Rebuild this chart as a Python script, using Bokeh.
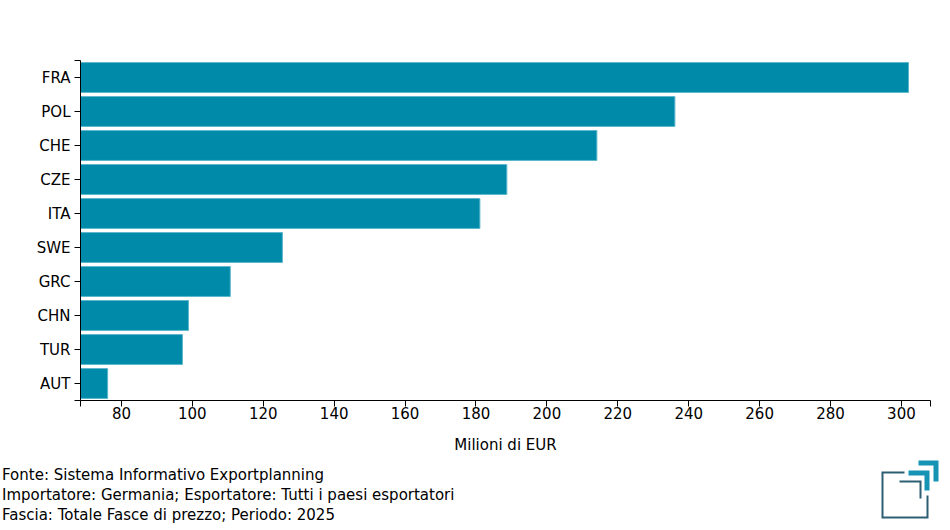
from bokeh.plotting import figure
from bokeh.models import (Range1d, FixedTicker, CustomJSTickFormatter, LinearAxis,
                          ColumnDataSource)
from bokeh.core.properties import value
from bokeh.embed import file_html
from bokeh.resources import INLINE

# ---- data ----
countries = ["FRA", "POL", "CHE", "CZE", "ITA", "SWE", "GRC", "CHN", "TUR", "AUT"]
values = [302.0, 236.1, 214.1, 188.7, 181.1, 125.4, 110.7, 98.9, 97.2, 76.1]
x_ticks = [80, 100, 120, 140, 160, 180, 200, 220, 240, 260, 280, 300]
x_min, x_max = 68.45, 308.2
x_label = "Milioni di EUR"
footer_lines = [
    "Fonte: Sistema Informativo Exportplanning",
    "Importatore: Germania; Esportatore: Tutti i paesi esportatori",
    "Fascia: Totale Fasce di prezzo; Periodo: 2025",
]

FONT = "DejaVu Sans"
BAR = "#008aaa"
BAR_EDGE = "#5db7cc"
DARK = "#2e5e73"
TEAL = "#1794b3"

# page layout (pixels): plot area 80..930 x 60..400 inside a 950x528 canvas
W, H = 950, 528
LEFT, RIGHT, TOP, BOTTOM = 80, 930, 60, 400

n = len(countries)
positions = [i + 0.5 for i in range(n)]
src = ColumnDataSource(dict(country=countries, value=values, y=positions))

px_x = (RIGHT - LEFT) / (x_max - x_min)
px_y = (BOTTOM - TOP) / n
def to_x(xp):
    return x_min + (xp - LEFT) / px_x
def to_y(yp):
    return (yp - TOP) / px_y

p = figure(width=W, height=H, output_backend="svg", toolbar_location=None,
           x_range=Range1d(to_x(0), to_x(W)), y_range=Range1d(to_y(H), to_y(0)),
           x_axis_location=None, y_axis_location=None, min_border=0)
p.outline_line_color = None
p.grid.visible = False

p.hbar(y="y", right="value", left=x_min, height=0.88, source=src,
       fill_color=BAR, line_color=BAR_EDGE, line_width=1)

# x axis (value axis) fixed at the bottom of the bars area
xa = LinearAxis(fixed_location=n, bounds=(x_min, x_max))
xa.ticker = FixedTicker(ticks=[x_min] + x_ticks + [x_max])
xa.formatter = CustomJSTickFormatter(args=dict(tv=x_ticks),
                                     code="return tv.includes(tick) ? tick.toFixed(0) : '';")
xa.axis_label = x_label
xa.axis_label_text_font = FONT
xa.axis_label_text_font_size = "15px"
xa.axis_label_text_font_style = "normal"
xa.axis_label_text_color = "#000000"
xa.axis_label_standoff = 14
xa.major_label_standoff = 0

# y axis (categories) fixed at the left of the bars area
ya = LinearAxis(fixed_location=x_min, bounds=(0, n))
ya.ticker = FixedTicker(ticks=[0] + positions + [n])
ya.formatter = CustomJSTickFormatter(args=dict(names=countries),
    code="const i = Math.floor(tick); return (Math.abs(tick - i - 0.5) < 1e-6 && i < names.length) ? names[i] : '';")
ya.major_label_standoff = 4

for ax in (xa, ya):
    ax.axis_line_color = "#000000"
    ax.axis_line_width = 1
    ax.major_tick_line_color = "#000000"
    ax.major_tick_out = 6
    ax.major_tick_in = 0
    ax.minor_tick_line_color = None
    ax.major_label_text_font = FONT
    ax.major_label_text_font_size = "15px"
    ax.major_label_text_color = "#000000"

p.add_layout(xa, "below")
p.add_layout(ya, "left")

# footer notes
p.text(x=[to_x(1.5)] * 3, y=[to_y(474), to_y(494), to_y(514)], text=footer_lines,
       text_font=value(FONT), text_font_size="15px", text_color="#000000",
       text_baseline="alphabetic", text_align="left")

# logo (decoration), outlined in page pixels
logo = [
    ([(904, 471), (881, 471), (881, 518), (928, 518), (928, 495), (926, 495),
      (926, 516), (883, 516), (883, 473), (904, 473)], DARK),
    ([(899, 480), (921, 480), (921, 498), (919, 498), (919, 482), (899, 482)], DARK),
    ([(908, 470), (929, 470), (929, 490), (924, 490), (924, 475), (908, 475)], TEAL),
    ([(918, 460), (938, 460), (938, 481), (933, 481), (933, 465), (918, 465)], TEAL),
]
p.patches(xs=[[to_x(a) for a, b in pts] for pts, c in logo],
          ys=[[to_y(b) for a, b in pts] for pts, c in logo],
          fill_color=[c for pts, c in logo], line_color=None)

open("out.html", "w").write(file_html(p, INLINE))
